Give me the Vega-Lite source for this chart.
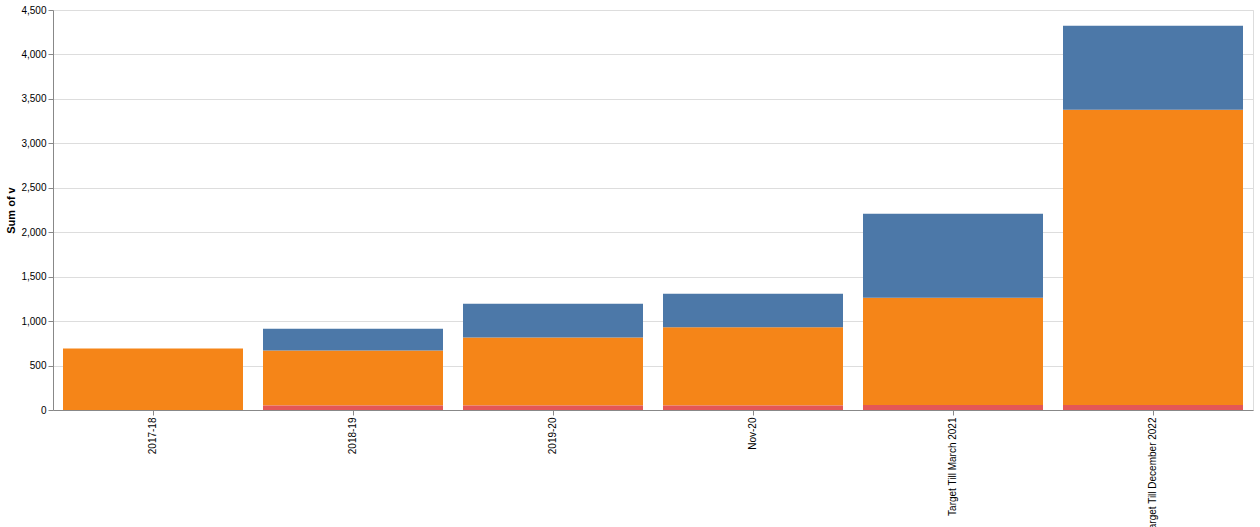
{
  "$schema": "https://vega.github.io/schema/vega-lite/v6.json",
  "width": 1200,
  "height": 400,
  "data": {
    "values": [
      {"category": "2017-18", "seg": "SHC", "v": 691},
      {"category": "2018-19", "seg": "SHC", "v": 618},
      {"category": "2018-19", "seg": "PHC", "v": 246},
      {"category": "2018-19", "seg": "UPHC", "v": 50},
      {"category": "2019-20", "seg": "SHC", "v": 765},
      {"category": "2019-20", "seg": "PHC", "v": 379},
      {"category": "2019-20", "seg": "UPHC", "v": 52},
      {"category": "Nov-20", "seg": "SHC", "v": 878},
      {"category": "Nov-20", "seg": "PHC", "v": 379},
      {"category": "Nov-20", "seg": "UPHC", "v": 52},
      {"category": "Target Till March 2021", "seg": "SHC", "v": 1208},
      {"category": "Target Till March 2021", "seg": "PHC", "v": 946},
      {"category": "Target Till March 2021", "seg": "UPHC", "v": 55},
      {"category": "Target Till December 2022", "seg": "SHC", "v": 3322},
      {"category": "Target Till December 2022", "seg": "PHC", "v": 946},
      {"category": "Target Till December 2022", "seg": "UPHC", "v": 55}
    ]
  },
  "mark": "bar",
  "encoding": {
    "x": {"field": "category", "type": "nominal", "sort": null},
    "y": {"field": "v", "type": "quantitative", "aggregate": "sum"},
    "color": {"field": "seg", "type": "nominal"}
  }
}
